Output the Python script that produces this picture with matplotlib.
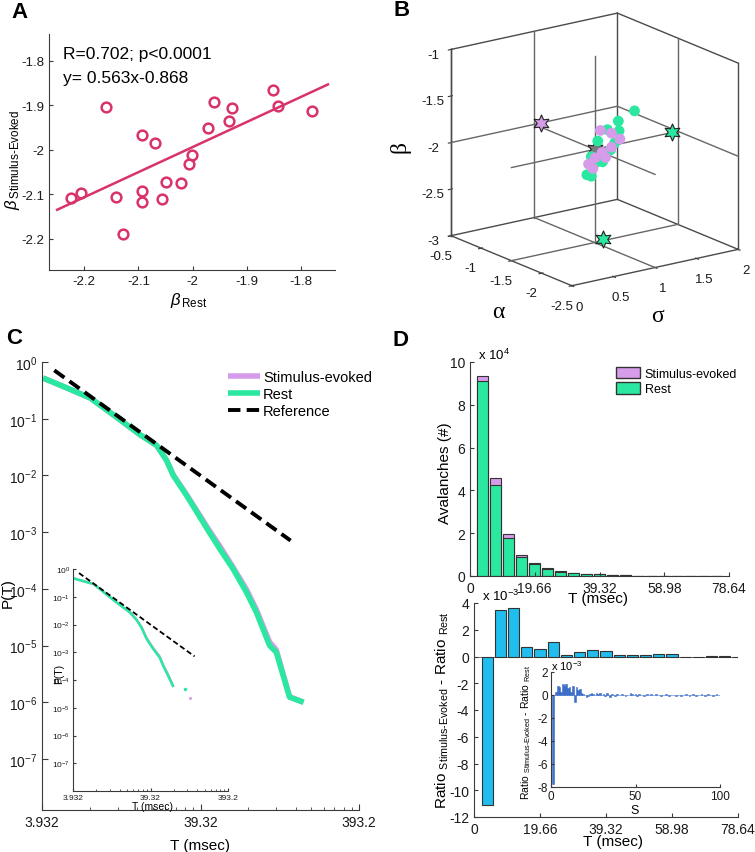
import numpy as np
import matplotlib
matplotlib.use('Agg')
import matplotlib.pyplot as plt
from matplotlib.ticker import FixedLocator, NullLocator, FixedFormatter, NullFormatter
from matplotlib.patches import Patch

plt.rcParams['font.family'] = ['Liberation Sans', 'DejaVu Sans']
plt.rcParams['mathtext.fontset'] = 'custom'
plt.rcParams['mathtext.rm'] = 'Liberation Sans'
plt.rcParams['mathtext.it'] = 'Liberation Sans:italic'
plt.rcParams['mathtext.bf'] = 'Liberation Sans:bold'
plt.rcParams['mathtext.sf'] = 'Liberation Sans'
plt.rcParams['axes.unicode_minus'] = False
plt.rcParams['xtick.direction'] = 'in'
plt.rcParams['ytick.direction'] = 'in'
plt.rcParams['axes.edgecolor'] = '#3a3a3a'
plt.rcParams['xtick.color'] = '#3a3a3a'
plt.rcParams['ytick.color'] = '#3a3a3a'
plt.rcParams['xtick.labelcolor'] = '#1a1a1a'
plt.rcParams['ytick.labelcolor'] = '#1a1a1a'

# ---------------- data ----------------
# Panel A
beta_rest = [-2.225, -2.206, -2.159, -2.141, -2.128, -2.094, -2.094, -2.094, -2.069, -2.057, -2.049,
             -2.022, -2.007, -2.001, -1.971, -1.961, -1.933, -1.927, -1.851, -1.842, -1.780]
beta_stim = [-2.108, -2.097, -1.905, -2.106, -2.190, -1.967, -2.093, -2.117, -1.984, -2.111, -2.073,
             -2.075, -2.033, -2.012, -1.952, -1.893, -1.935, -1.907, -1.865, -1.901, -1.913]
fit_slope = 0.563
fit_intercept = -0.868
fit_range = [-2.25, -1.75]

# Panel B (sigma, alpha, beta)
rest_sigma = [1.48, 1.30, 1.14, 1.24, 1.06, 1.17, 0.96, 1.02, 0.90, 0.96, 1.28, 1.11]
rest_alpha = [-1.50, -1.48, -1.52, -1.50, -1.47, -1.53, -1.50, -1.49, -1.51, -1.50, -1.52, -1.48]
rest_beta3 = [-1.68, -1.76, -1.81, -1.98, -1.93, -2.03, -2.07, -2.15, -2.25, -2.28, -1.85, -2.16]
stim_sigma = [1.07, 1.21, 1.29, 1.09, 1.02, 0.92, 0.98, 1.11, 1.21]
stim_alpha = [-1.50, -1.49, -1.52, -1.50, -1.48, -1.51, -1.50, -1.53, -1.49]
stim_beta3 = [-1.81, -1.87, -1.94, -2.05, -2.10, -2.14, -2.20, -2.10, -2.02]
crit_point = [1.0, -1.5, -2.0]           # sigma, alpha, beta
star_stim_wall = [1.08, -0.5, -2.0]
star_rest_wall = [2.0, -1.4, -2.03]
star_rest_floor = [1.13, -1.46, -3.0]

# Panel C main
C_rest_T = [3.99, 5.65, 7.92, 11.37, 16.33, 20.79, 24.03, 26.47, 32.1, 44.6, 52.0, 63.1, 76.6, 88.5,
            107.3, 118.2, 143.4, 175.6]
C_rest_P = [0.522, 0.348, 0.232, 0.111, 0.0522, 0.0338, 0.0184, 0.0100, 0.00444, 0.00100, 5.08e-4,
            2.25e-4, 8.73e-5, 3.87e-5, 1.0e-5, 7.63e-6, 1.23e-6, 1.0e-6]
C_stim_T = [3.99, 5.65, 7.92, 11.37, 16.33, 20.79, 24.03, 26.47, 32.1, 44.6, 52.0, 63.1, 76.6, 88.5,
            107.3, 118.2, 143.4, 175.6]
C_stim_P = [0.522, 0.348, 0.232, 0.111, 0.0522, 0.0338, 0.0184, 0.0102, 0.00460, 0.00108, 5.7e-4,
            2.4e-4, 9.8e-5, 4.3e-5, 1.15e-5, 8.4e-6, 1.25e-6, 1.0e-6]
ref_T = [4.7, 145.5]
ref_P = [0.713, 7.1e-4]

# Panel C inset
Ci_rest_T = [3.97, 7.24, 14.3, 21.3, 26.1, 30.0, 35.1, 42.7, 51.6, 57.5, 66.7, 76.5]
Ci_rest_P = [0.461, 0.288, 0.063, 0.0275, 0.0145, 0.0079, 0.0030, 0.0013, 6.5e-4, 3.2e-4, 1.4e-4, 6.2e-5]
Ci_stim_T = [3.97, 7.24, 14.3, 21.3, 26.1, 30.0, 35.1, 42.7, 51.6, 57.5, 66.7, 76.5]
Ci_stim_P = [0.461, 0.288, 0.063, 0.0275, 0.0145, 0.0081, 0.0032, 0.0014, 7.0e-4, 3.4e-4, 1.5e-4, 6.2e-5]
Ci_dot_T = [108.0, 128.0]
Ci_dot_P = [4.7e-5, 2.2e-5]

# Panel D top (counts per bin)
bin_width = 3.932
D_stim = [93500, 45600, 19500, 10000, 5900, 3750, 2200, 1560, 1100, 800, 500, 300, 200, 150, 100, 80, 60, 40, 30]
D_rest = [90900, 42600, 17900, 9050, 5550, 3400, 2050, 1450, 1020, 740, 460, 280, 190, 140, 95, 75, 55, 38, 28]

# Panel D bottom (x 1e-3)
D_diff = [-11.08, 3.50, 3.63, 0.71, 0.59, 1.06, 0.14, 0.36, 0.51, 0.41, 0.11, 0.10, 0.12, 0.17, 0.17,
          -0.02, -0.05, 0.02, 0.04, -0.04]

# Panel D inset (x 1e-3) vs size S = 1..100
Di_diff = [-7.7, 0.0, 0.3, 0.8, 0.7, 0.3, 1.0, 0.8, 1.0, 0.6, 0.7, 0.3, 0.8, -0.6, 0.7, 0.4, 0.5, 0.2, 0.1, 0.0,
           -0.2, -0.1, 0.1, 0.2, 0.1, 0.0, 0.2, 0.1, 0.2, 0.0, 0.1, -0.1, 0.2, 0.0, -0.2, 0.1, 0.0, -0.1, 0.1, 0.0,
           0.0, 0.05, 0.0, -0.05, 0.0, 0.0, 0.2, 0.1, 0.0, 0.1, -0.1, 0.1, 0.0, 0.0, -0.1, 0.0, 0.1, 0.0, 0.1, 0.0,
           0.0, 0.1, 0.0, 0.0, -0.1, 0.0, 0.0, 0.1, 0.0, -0.1, 0.0, 0.0, 0.0, -0.05, 0.0, 0.0, -0.1, 0.0, 0.0, 0.05,
           0.0, -0.05, 0.0, 0.05, 0.0, -0.05, 0.0, 0.0, 0.05, 0.0, -0.05, 0.0, 0.05, 0.0, 0.0, -0.05, 0.0, 0.05, 0.0, 0.0]

PINK = '#d8336b'
GREEN = '#2ae8a0'
PURPLE = '#d79ce9'
BLUE = '#20bdee'
DBLUE = '#2c62c4'
GRAYL = '#666666'
EDGE3 = '#4a4a4a'

W, H = 755, 853
fig = plt.figure(figsize=(W / 100, H / 100), dpi=100)


def px_axes(l, t, r, b, **kw):
    return fig.add_axes([l / W, 1 - b / H, (r - l) / W, (b - t) / H], **kw)


def clean(ax):
    ax.spines['top'].set_visible(False)
    ax.spines['right'].set_visible(False)
    ax.set_facecolor('none')


# ---------------- Panel A ----------------
axA = px_axes(49, 35, 335, 271)
clean(axA)
axA.plot(beta_rest, beta_stim, 'o', mfc='none', mec=PINK, ms=7, mew=1.8)
fx = np.array(fit_range)
axA.plot(fx, fit_slope * fx + fit_intercept, color=PINK, lw=1.8)
axA.set_xlim(-2.265, -1.737)
axA.set_ylim(-2.27, -1.74)
axA.xaxis.set_major_locator(FixedLocator([-2.2, -2.1, -2.0, -1.9, -1.8]))
axA.xaxis.set_major_formatter(FixedFormatter(['-2.2', '-2.1', '-2', '-1.9', '-1.8']))
axA.yaxis.set_major_locator(FixedLocator([-2.2, -2.1, -2.0, -1.9, -1.8]))
axA.yaxis.set_major_formatter(FixedFormatter(['-2.2', '-2.1', '-2', '-1.9', '-1.8']))
axA.tick_params(labelsize=9.5, length=3)
axA.set_xlabel(r'$\beta_{\,\text{Rest}}$', fontsize=12)
axA.xaxis.set_label_coords(0.49, -0.085)
axA.set_ylabel(r'$\beta_{\,\text{Stimulus-Evoked}}$', fontsize=12)
axA.yaxis.set_label_coords(-0.095, 0.47)
fig.text(63 / W, 1 - 55 / H, 'R=0.702; p<0.0001', fontsize=12.5, va='center')
fig.text(63 / W, 1 - 79 / H, 'y= 0.563x-0.868', fontsize=12.5, va='center')

# ---------------- Panel B (3D) ----------------
ax3 = px_axes(395, -15, 785, 325, projection='3d')
ax3.set_facecolor('none')
ax3.set_proj_type('ortho')
ax3.view_init(elev=17.5, azim=-126)
ax3.set_box_aspect((1, 1, 0.95), zoom=1.0)
ax3.set_xlim(0, 2)
ax3.set_ylim(-2.5, -0.5)
ax3.set_zlim(-3, -1)
ax3.grid(False)
for axis in (ax3.xaxis, ax3.yaxis, ax3.zaxis):
    axis.set_pane_color((1, 1, 1, 0))
    axis.line.set_color(EDGE3)
    axis.line.set_linewidth(1.0)
ax3.set_xticks([0, 0.5, 1, 1.5, 2])
ax3.set_xticklabels(['0', '0.5', '1', '1.5', '2'])
ax3.set_yticks([-2.5, -2, -1.5, -1, -0.5])
ax3.set_yticklabels(['-2.5', '-2', '-1.5', '-1', '-0.5'])
ax3.set_zticks([-3, -2.5, -2, -1.5, -1])
ax3.set_zticklabels(['-3', '-2.5', '-2', '-1.5', '-1'])
ax3.tick_params(labelsize=9.5, pad=0)
# box edges of the three back faces
box_edges = [
    ([0, 2], [-0.5, -0.5], [-3, -3]),
    ([2, 2], [-0.5, -2.5], [-3, -3]),
    ([0, 0], [-0.5, -0.5], [-3, -1]),
    ([2, 2], [-0.5, -0.5], [-3, -1]),
    ([2, 2], [-2.5, -2.5], [-3, -1]),
    ([0, 2], [-0.5, -0.5], [-1, -1]),
    ([2, 2], [-0.5, -2.5], [-1, -1]),
]
for xs, ys, zs in box_edges:
    ax3.plot(xs, ys, zs, color=EDGE3, lw=1.0)
cs, ca, cb = crit_point
wall_lines = [
    ([cs, cs], [-0.5, -0.5], [-3, -1]),
    ([0, 2], [-0.5, -0.5], [cb, cb]),
    ([2, 2], [ca, ca], [-3, -1]),
    ([2, 2], [-2.5, -0.5], [cb, cb]),
    ([cs, cs], [-2.5, -0.5], [-3, -3]),
    ([0, 2], [ca, ca], [-3, -3]),
    ([0, 2], [ca, ca], [cb, cb]),
    ([cs, cs], [-2.5, -0.5], [cb, cb]),
    ([cs, cs], [ca, ca], [-3, -1]),
]
for xs, ys, zs in wall_lines:
    ax3.plot(xs, ys, zs, color=GRAYL, lw=1.0)
ax3.scatter(stim_sigma, stim_alpha, stim_beta3, s=60, c=PURPLE, depthshade=False, edgecolors='none')
ax3.scatter(rest_sigma, rest_alpha, rest_beta3, s=60, c=GREEN, depthshade=False, edgecolors='none')
star = (6, 1, 0)
ax3.scatter([cs], [ca], [cb], marker=star, s=150, c='#7a7a7a', edgecolors='#222222', linewidths=0.8, depthshade=False)
ax3.scatter([star_stim_wall[0]], [star_stim_wall[1]], [star_stim_wall[2]], marker=star, s=150, c=PURPLE,
            edgecolors='#222222', linewidths=0.8, depthshade=False)
ax3.scatter([star_rest_wall[0]], [star_rest_wall[1]], [star_rest_wall[2]], marker=star, s=150, c=GREEN,
            edgecolors='#222222', linewidths=0.8, depthshade=False)
ax3.scatter([star_rest_floor[0]], [star_rest_floor[1]], [star_rest_floor[2]], marker=star, s=150, c=GREEN,
            edgecolors='#222222', linewidths=0.8, depthshade=False)
fig.text(498 / W, 1 - 313 / H, 'α', fontsize=17, family='Liberation Serif', ha='center', va='center')
fig.text(657 / W, 1 - 317 / H, 'σ', fontsize=17, family='Liberation Serif', ha='center', va='center')
fig.text(400 / W, 1 - 147 / H, 'β', fontsize=17, family='Liberation Serif', ha='center', va='center', rotation=90)

# ---------------- Panel C ----------------
axC = px_axes(42, 363, 359, 811)
clean(axC)
axC.set_xscale('log')
axC.set_yscale('log')
axC.plot(C_stim_T, C_stim_P, color=PURPLE, lw=4, solid_capstyle='butt', label='Stimulus-evoked')
axC.plot(C_rest_T, C_rest_P, color=GREEN, lw=4, solid_capstyle='butt', label='Rest')
axC.plot(ref_T, ref_P, color='black', lw=2.8, dashes=(3.2, 1.6), label='Reference')
axC.set_xlim(3.932, 393.2)
axC.set_ylim(10 ** -7.9, 1)
axC.xaxis.set_major_locator(FixedLocator([3.932, 39.32, 393.2]))
axC.xaxis.set_major_formatter(FixedFormatter(['3.932', '39.32', '393.2']))
minC = [k * 3.932 for k in range(2, 10)] + [k * 39.32 for k in range(2, 10)]
axC.xaxis.set_minor_locator(FixedLocator(minC))
axC.xaxis.set_minor_formatter(NullFormatter())
yt = [10.0 ** (-k) for k in range(0, 8)]
ylabs = [r'$10^{%d}$' % (-k) if k else r'$10^{0}$' for k in range(0, 8)]
axC.yaxis.set_major_locator(FixedLocator(yt))
axC.yaxis.set_major_formatter(FixedFormatter(ylabs))
axC.yaxis.set_minor_locator(NullLocator())
axC.tick_params(which='major', labelsize=10, length=4)
axC.tick_params(which='minor', length=2.5)
axC.set_xlabel('T (msec)', fontsize=11)
axC.xaxis.set_label_coords(0.50, -0.063)
axC.set_ylabel('P(T)', fontsize=11)
axC.yaxis.set_label_coords(-0.085, 0.487)
axC.legend(loc='upper left', bbox_to_anchor=(228 / W, 1 - 371 / H), bbox_transform=fig.transFigure,
           frameon=False, fontsize=10.5, handlelength=2.2, handletextpad=0.2, labelspacing=0.2,
           borderpad=0, borderaxespad=0)

# inset C
axCi = px_axes(73, 570, 228, 792)
clean(axCi)
axCi.set_xscale('log')
axCi.set_yscale('log')
axCi.plot(Ci_stim_T, Ci_stim_P, color=PURPLE, lw=1.8)
axCi.plot(Ci_rest_T, Ci_rest_P, color=GREEN, lw=1.8)
axCi.plot(ref_T, ref_P, color='black', lw=1.3, dashes=(3, 1.6))
axCi.plot(Ci_dot_T[:1], Ci_dot_P[:1], 'o', color=GREEN, ms=1.5)
axCi.plot(Ci_dot_T[1:], Ci_dot_P[1:], 'o', color=PURPLE, ms=1.2)
axCi.set_xlim(3.932, 393.2)
axCi.set_ylim(1e-8, 1)
axCi.xaxis.set_major_locator(FixedLocator([3.932, 39.32, 393.2]))
axCi.xaxis.set_major_formatter(FixedFormatter(['3.932', '39.32', '393.2']))
axCi.xaxis.set_minor_locator(FixedLocator(minC))
axCi.xaxis.set_minor_formatter(NullFormatter())
axCi.yaxis.set_major_locator(FixedLocator(yt))
axCi.yaxis.set_major_formatter(FixedFormatter(ylabs))
axCi.yaxis.set_minor_locator(NullLocator())
axCi.tick_params(which='major', labelsize=6, length=2.5, pad=2)
axCi.tick_params(which='minor', length=1.5)
axCi.set_xlabel('T (msec)', fontsize=7.5)
axCi.xaxis.set_label_coords(0.51, -0.045)
axCi.set_ylabel('P(T)', fontsize=7.5)
axCi.yaxis.set_label_coords(-0.06, 0.53)

# ---------------- Panel D top ----------------
axD1 = px_axes(470, 363, 729, 577)
clean(axD1)
nb = len(D_stim)
cent = bin_width * np.arange(1, nb + 1)
axD1.bar(cent, np.array(D_stim) / 1e4, width=0.85 * bin_width, color=PURPLE, edgecolor='#333333', lw=0.8)
axD1.bar(cent, np.array(D_rest) / 1e4, width=0.85 * bin_width, color=GREEN, edgecolor='#333333', lw=0.8)
axD1.set_xlim(0, 78.64)
axD1.set_ylim(0, 10)
axD1.xaxis.set_major_locator(FixedLocator([0, 19.66, 39.32, 58.98, 78.64]))
axD1.xaxis.set_major_formatter(FixedFormatter(['0', '19.66', '39.32', '58.98', '78.64']))
axD1.yaxis.set_major_locator(FixedLocator([0, 2, 4, 6, 8, 10]))
axD1.yaxis.set_major_formatter(FixedFormatter(['0', '2', '4', '6', '8', '10']))
axD1.tick_params(labelsize=10, length=3)
axD1.set_xlabel('T (msec)', fontsize=11)
axD1.xaxis.set_label_coords(0.494, -0.072)
axD1.set_ylabel('Avalanches (#)', fontsize=11)
axD1.yaxis.set_label_coords(-0.07, 0.486)
axD1.text(0.03, 1.035, r'x 10$^{4}$', transform=axD1.transAxes, fontsize=9.5, va='center')
axD1.legend(handles=[Patch(facecolor=PURPLE, edgecolor='#333333', label='Stimulus-evoked'),
                     Patch(facecolor=GREEN, edgecolor='#333333', label='Rest')],
            loc='upper left', bbox_to_anchor=(616 / W, 1 - 368 / H), bbox_transform=fig.transFigure,
            frameon=False, fontsize=9, handlelength=1.9, handleheight=1.0, handletextpad=0.4,
            labelspacing=0.2, borderpad=0, borderaxespad=0)

# ---------------- Panel D bottom ----------------
axD2 = px_axes(474, 604, 738, 818)
clean(axD2)
nd = len(D_diff)
centd = bin_width * np.arange(1, nd + 1)
axD2.bar(centd, D_diff, width=0.85 * bin_width, color=BLUE, edgecolor='#333333', lw=0.8)
axD2.axhline(0, color='#555555', lw=0.6, zorder=0.5)
axD2.set_xlim(0, 78.64)
axD2.set_ylim(-12, 4)
axD2.xaxis.set_major_locator(FixedLocator([0, 19.66, 39.32, 58.98, 78.64]))
axD2.xaxis.set_major_formatter(FixedFormatter(['0', '19.66', '39.32', '58.98', '78.64']))
yd = [-12, -10, -8, -6, -4, -2, 0, 2, 4]
axD2.yaxis.set_major_locator(FixedLocator(yd))
axD2.yaxis.set_major_formatter(FixedFormatter([str(v) for v in yd]))
axD2.tick_params(labelsize=10, length=3)
axD2.set_xlabel('T (msec)', fontsize=11)
axD2.xaxis.set_label_coords(0.527, -0.08)
axD2.set_ylabel(r'Ratio $_{\text{Stimulus-Evoked}}$ - Ratio $_{\text{Rest}}$', fontsize=11)
axD2.yaxis.set_label_coords(-0.087, 0.505)
axD2.text(0.03, 1.035, r'x 10$^{-3}$', transform=axD2.transAxes, fontsize=9.5, va='center')

# inset D
axDi = px_axes(551, 673, 720, 788)
clean(axDi)
S_vals = np.arange(1, len(Di_diff) + 1)
axDi.bar(S_vals, Di_diff, width=1.0, color=DBLUE, edgecolor=DBLUE, lw=0.4, alpha=0.9)
axDi.set_xlim(0, 100)
axDi.set_ylim(-8, 2)
axDi.xaxis.set_major_locator(FixedLocator([0, 50, 100]))
axDi.xaxis.set_major_formatter(FixedFormatter(['0', '50', '100']))
ydi = [-8, -6, -4, -2, 0, 2]
axDi.yaxis.set_major_locator(FixedLocator(ydi))
axDi.yaxis.set_major_formatter(FixedFormatter([str(v) for v in ydi]))
axDi.tick_params(labelsize=8.5, length=2.5, pad=2)
axDi.set_xlabel('S', fontsize=9)
axDi.xaxis.set_label_coords(0.497, -0.15)
axDi.set_ylabel(r'Ratio $_{\text{Stimulus-Evoked}}$ - Ratio $_{\text{Rest}}$', fontsize=7.5)
axDi.yaxis.set_label_coords(-0.105, 0.487)
axDi.text(0.0, 1.06, r'x 10$^{-3}$', transform=axDi.transAxes, fontsize=8, va='center')

# panel letters
for lab, x, y in [('A', 20, 13), ('B', 402, 11), ('C', 14, 338), ('D', 401, 340)]:
    fig.text(x / W, 1 - y / H, lab, fontsize=16, fontweight='bold', ha='center', va='center')

fig.savefig('out.png', dpi=100, facecolor='white')
